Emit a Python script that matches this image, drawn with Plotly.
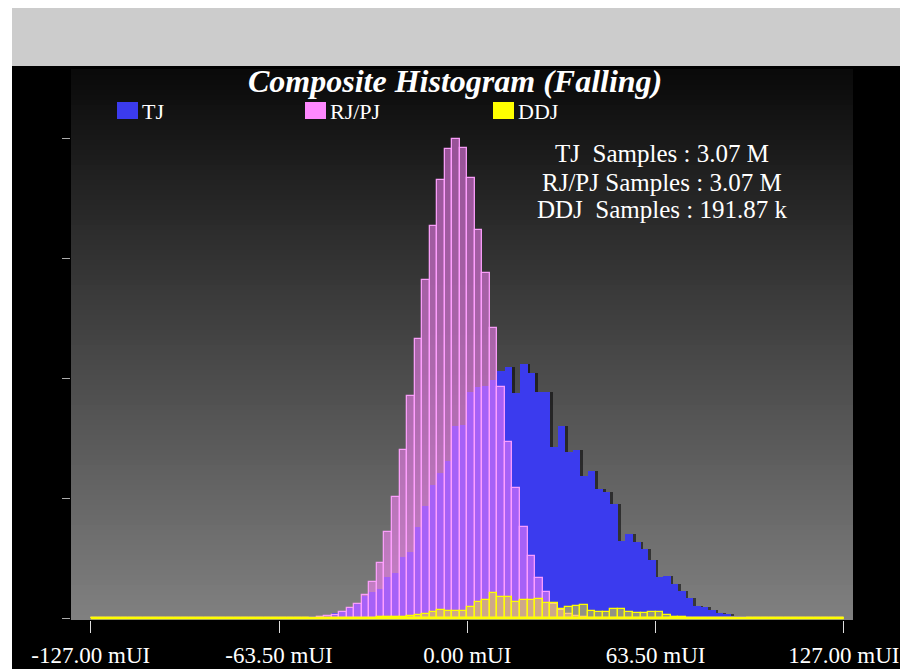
import plotly.graph_objects as go

# ---------------- data ----------------
X_MIN, X_MAX = -127.0, 127.0
BIN_WIDTH = 2.54

TJ = [
    0, 0, 0, 0, 0, 0, 0, 0, 0, 0,
    0, 0, 0, 0, 0, 0, 0, 0, 0, 0,
    0, 0, 0, 0, 0, 0.2, 0.3, 0.5, 0.8, 1.3,
    2, 3, 5, 7, 10, 15, 22, 26, 29, 41,
    45, 61, 66, 91, 112, 133, 145, 157, 192, 193,
    226, 231, 232, 238, 247, 251, 225, 254, 245, 226,
    226, 171, 192, 166, 168, 142, 147, 129, 126, 114,
    77, 84, 76, 69, 58, 41, 42, 34, 27, 20,
    12, 11, 8, 5, 4, 2.5, 1.5, 1, 0.6, 0.4,
    0.2, 0, 0, 0, 0, 0, 0, 0, 0, 0,
]
RJPJ = [
    0, 0, 0, 0, 0, 0, 0, 0, 0, 0,
    0, 0, 0, 0, 0, 0, 0, 0, 0, 0,
    0, 0, 0, 0, 0, 0, 0, 0, 0, 0.5,
    1, 2, 3.5, 6, 10, 14, 23, 36, 55, 86,
    121, 168, 222, 279, 338, 392, 438, 469, 479, 470,
    440, 388, 345, 290, 231, 176, 130, 91, 62, 40,
    26, 14, 8, 4, 2, 1, 0, 0, 0, 0,
    0, 0, 0, 0, 0, 0, 0, 0, 0, 0,
    0, 0, 0, 0, 0, 0, 0, 0, 0, 0,
    0, 0, 0, 0, 0, 0, 0, 0, 0, 0,
]
DDJ = [
    0, 0, 0, 0, 0, 0, 0, 0, 0, 0,
    0, 0, 0, 0, 0, 0, 0, 0, 0, 0,
    0, 0, 0, 0, 0, 0, 0, 0, 0, 0,
    0, 0, 0, 0, 0, 0, 0.3, 0.5, 0.8, 0.8,
    1, 1.3, 2, 3, 4, 6, 8, 7.5, 7.5, 7.5,
    10.7, 15.7, 18, 24.7, 21, 20.7, 16, 18, 18, 18.7,
    15, 14.7, 9, 11, 12, 13, 7, 5.7, 6.3, 8.7,
    8.7, 6.3, 4.7, 4.7, 6, 6.5, 3.5, 1.5, 0.8, 0.4,
    0, 0, 0, 0, 0, 0, 0, 0, 0, 0,
    0, 0, 0, 0, 0, 0, 0, 0, 0, 0,
]
SERIES_NAMES = ["TJ", "RJ/PJ", "DDJ"]
SAMPLE_LINES = ["TJ\u00a0 Samples : 3.07 M",
                "RJ/PJ Samples : 3.07 M",
                "DDJ\u00a0 Samples : 191.87 k"]
TITLE = "Composite Histogram (Falling)"
X_TICK_VALS = [-127.0, -63.5, 0.0, 63.5, 127.0]
X_TICK_TEXT = ["-127.00 mUI", "-63.50 mUI", "0.00 mUI", "63.50 mUI", "127.00 mUI"]
Y_TICK_VALS = [0, 120, 240, 360, 480]

centers = [X_MIN + BIN_WIDTH * (i + 0.5) for i in range(len(TJ))]

# ---------------- layout geometry (screen pixels; body margin removed) ----------------
W, H = 908, 669
PX_L, PX_R, PX_T, PX_B = 71, 853, 70, 620
PW, PH = PX_R - PX_L, PX_B - PX_T


def px(xs):
    return (xs - PX_L) / PW


def py(ys):
    return (PX_B - ys) / PH


FONT = "Liberation Serif, Times New Roman, serif"
BLUE = "#3b3bee"
PINK_FILL = "rgba(255,130,255,0.55)"
PINK_LINE = "rgba(255,160,255,0.95)"
YEL_FILL = "rgba(255,255,0,0.45)"
YEL_LINE = "#ffff00"

fig = go.Figure()

# drop shadow of TJ bars
fig.add_trace(go.Bar(x=centers, y=TJ, width=BIN_WIDTH, offset=-BIN_WIDTH / 2 + 0.9,
                     marker=dict(color="rgba(0,0,0,0.55)", line=dict(width=0)),
                     hoverinfo="skip", showlegend=False))
fig.add_trace(go.Bar(x=centers, y=TJ, width=BIN_WIDTH, name=SERIES_NAMES[0],
                     marker=dict(color=BLUE, line=dict(width=0))))
fig.add_trace(go.Bar(x=centers, y=RJPJ, width=BIN_WIDTH, name=SERIES_NAMES[1],
                     marker=dict(color=PINK_FILL, line=dict(color=PINK_LINE, width=1.3))))
fig.add_trace(go.Bar(x=centers, y=DDJ, width=BIN_WIDTH, name=SERIES_NAMES[2],
                     marker=dict(color=YEL_FILL, line=dict(color=YEL_LINE, width=1.3))))
fig.add_trace(go.Scatter(x=[X_MIN, X_MAX], y=[0, 0], mode="lines",
                         line=dict(color=YEL_LINE, width=2.5),
                         hoverinfo="skip", showlegend=False))

shapes = []
# grey band at top
shapes.append(dict(type="rect", xref="paper", yref="paper", layer="below",
                   x0=px(12), x1=px(900), y0=py(66), y1=py(8),
                   fillcolor="#cccccc", line=dict(width=0)))
# black frame
shapes.append(dict(type="rect", xref="paper", yref="paper", layer="below",
                   x0=px(12), x1=px(900), y0=py(690), y1=py(66),
                   fillcolor="#000000", line=dict(width=0)))
# vertical gradient of plot area
N = 110
for i in range(N):
    t = i / (N - 1)
    g = int(round(128 - (128 - 10) * t))
    shapes.append(dict(type="rect", xref="paper", yref="paper", layer="below",
                       x0=0, x1=1, y0=i / N, y1=(i + 1) / N + 0.002,
                       fillcolor=f"rgb({g},{g},{g})", line=dict(width=0)))

# legend (manual)
legend_x = [117, 305, 493]
legend_cols = [BLUE, "#ff88ff", "#ffff00"]
annotations = []
for name, lx, col in zip(SERIES_NAMES, legend_x, legend_cols):
    shapes.append(dict(type="rect", xref="paper", yref="paper", layer="above",
                       x0=px(lx), x1=px(lx + 21), y0=py(119), y1=py(102),
                       fillcolor=col, line=dict(width=0)))
    annotations.append(dict(xref="paper", yref="paper", x=px(lx + 24), y=py(111),
                            text=name, showarrow=False, xanchor="left", yanchor="middle",
                            borderpad=0,
                            font=dict(family=FONT, size=22, color="white")))

annotations.append(dict(xref="paper", yref="paper", x=px(455), y=py(81),
                        text=f"<b><i>{TITLE}</i></b>", showarrow=False,
                        xanchor="center", yanchor="middle", borderpad=0,
                        font=dict(family=FONT, size=32, color="white")))
for line, yy in zip(SAMPLE_LINES, [153, 182, 210]):
    annotations.append(dict(xref="paper", yref="paper", x=px(662), y=py(yy),
                            text=line, showarrow=False, xanchor="center", yanchor="middle",
                            borderpad=0,
                            font=dict(family=FONT, size=25, color="white")))

# x scale: 0 mUI at screen x 467.3, 2.965 px per mUI
x0_val = (PX_L - 467.3) / 2.965
x1_val = (PX_R - 467.3) / 2.965

fig.update_layout(
    width=W, height=H,
    margin=dict(l=PX_L, r=W - PX_R, t=PX_T, b=H - PX_B, pad=0, autoexpand=False),
    paper_bgcolor="white", plot_bgcolor="rgba(0,0,0,0)",
    barmode="overlay", bargap=0, showlegend=False,
    shapes=shapes, annotations=annotations,
    xaxis=dict(range=[x0_val, x1_val], showgrid=False, zeroline=False, showline=False,
               automargin=False,
               tickmode="array", tickvals=X_TICK_VALS, ticktext=X_TICK_TEXT,
               ticks="outside", ticklen=12, tickwidth=1, tickcolor="#dddddd",
               ticklabelstandoff=2,
               tickfont=dict(family=FONT, size=23, color="white")),
    yaxis=dict(range=[-2, 548], showgrid=False, zeroline=False, showline=False,
               automargin=False,
               tickmode="array", tickvals=Y_TICK_VALS, showticklabels=False,
               ticks="outside", ticklen=8, tickwidth=1, tickcolor="#aaaaaa"),
)

fig.write_html(
    "out.html",
    config={"displayModeBar": False},
    post_script="document.body.style.margin='0';"
                "document.documentElement.style.overflow='hidden';",
)
